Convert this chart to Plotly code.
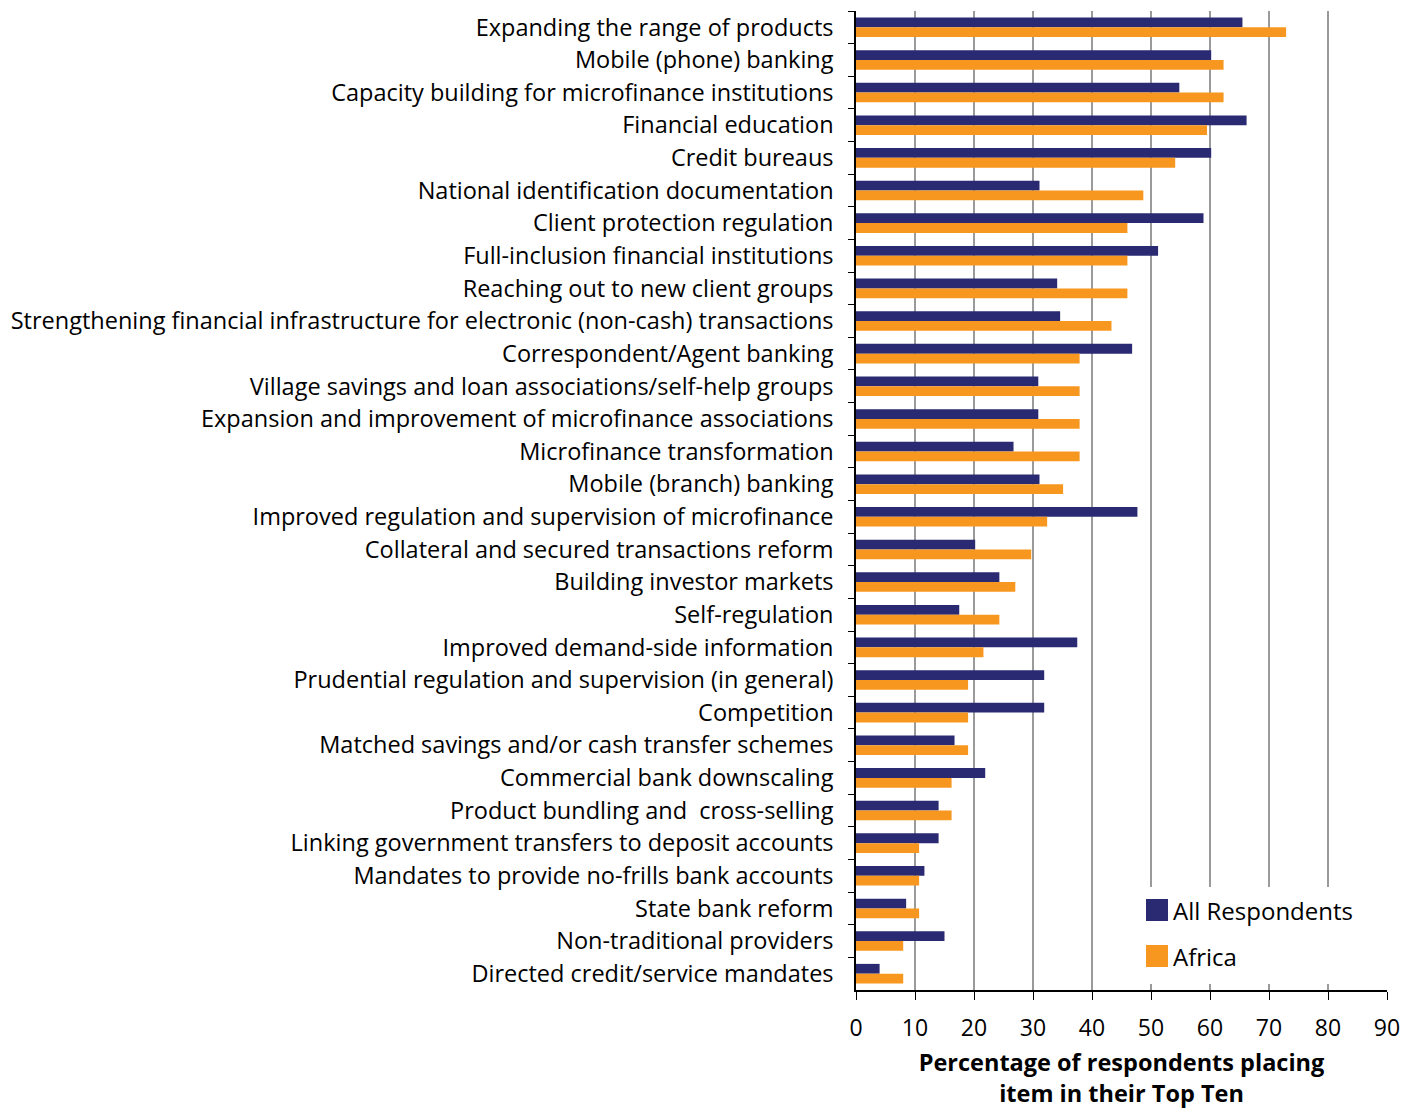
import plotly.graph_objects as go

categories = [
    "Expanding the range of products",
    "Mobile (phone) banking",
    "Capacity building for microfinance institutions",
    "Financial education",
    "Credit bureaus",
    "National identification documentation",
    "Client protection regulation",
    "Full-inclusion financial institutions",
    "Reaching out to new client groups",
    "Strengthening financial infrastructure for electronic (non-cash) transactions",
    "Correspondent/Agent banking",
    "Village savings and loan associations/self-help groups",
    "Expansion and improvement of microfinance associations",
    "Microfinance transformation",
    "Mobile (branch) banking",
    "Improved regulation and supervision of microfinance",
    "Collateral and secured transactions reform",
    "Building investor markets",
    "Self-regulation",
    "Improved demand-side information",
    "Prudential regulation and supervision (in general)",
    "Competition",
    "Matched savings and/or cash transfer schemes",
    "Commercial bank downscaling",
    "Product bundling and  cross-selling",
    "Linking government transfers to deposit accounts",
    "Mandates to provide no-frills bank accounts",
    "State bank reform",
    "Non-traditional providers",
    "Directed credit/service mandates",
]

all_respondents = [65.5, 60.2, 54.8, 66.2, 60.2, 31.1, 58.9, 51.2, 34.1, 34.6,
                   46.8, 30.9, 30.9, 26.7, 31.1, 47.7, 20.2, 24.3, 17.5, 37.5,
                   31.9, 31.9, 16.7, 21.9, 14.0, 14.0, 11.6, 8.5, 15.0, 4.0]

africa = [72.9, 62.3, 62.3, 59.5, 54.1, 48.7, 46.0, 46.0, 46.0, 43.3,
          37.9, 37.9, 37.9, 37.9, 35.1, 32.4, 29.7, 27.0, 24.3, 21.6,
          19.0, 19.0, 19.0, 16.2, 16.2, 10.7, 10.7, 10.7, 8.0, 8.0]

series_names = ["All Respondents", "Africa"]
x_ticks = [0, 10, 20, 30, 40, 50, 60, 70, 80, 90]

NAVY = "#2A2A73"
ORANGE = "#F8971F"
FONT = "Open Sans"

W, H = 1409, 1109
ML, MR, MT, MB = 856, 22, 11, 119
PW, PH = W - ML - MR, H - MT - MB

def px_x(px):
    return (px - ML) / PW

def px_y(py):
    return (H - MB - py) / PH

fig = go.Figure()
fig.add_trace(go.Bar(y=categories, x=all_respondents, orientation="h",
                     name=series_names[0], marker=dict(color=NAVY, line_width=0),
                     showlegend=False))
fig.add_trace(go.Bar(y=categories, x=africa, orientation="h",
                     name=series_names[1], marker=dict(color=ORANGE, line_width=0),
                     showlegend=False))

shapes = [
    # white legend background covering gridlines
    dict(type="rect", xref="paper", yref="paper", layer="above",
         x0=px_x(1140), x1=px_x(1400), y0=px_y(984), y1=px_y(887),
         fillcolor="white", line_width=0),
    dict(type="rect", xref="paper", yref="paper", layer="above",
         x0=px_x(1146), x1=px_x(1168), y0=px_y(921), y1=px_y(899),
         fillcolor=NAVY, line_width=0),
    dict(type="rect", xref="paper", yref="paper", layer="above",
         x0=px_x(1146), x1=px_x(1168), y0=px_y(967), y1=px_y(945),
         fillcolor=ORANGE, line_width=0),
]
annotations = [
    dict(xref="paper", yref="paper", x=px_x(1171), y=px_y(910), xanchor="left",
         yanchor="middle", text=series_names[0], showarrow=False,
         font=dict(size=24, color="black", family=FONT)),
    dict(xref="paper", yref="paper", x=px_x(1171), y=px_y(956), xanchor="left",
         yanchor="middle", text=series_names[1], showarrow=False,
         font=dict(size=24, color="black", family=FONT)),
]

fig.update_layout(
    width=W, height=H,
    barmode="group", bargap=0.4, bargroupgap=0,
    plot_bgcolor="white", paper_bgcolor="white",
    margin=dict(l=ML, r=MR, t=MT, b=MB, autoexpand=False),
    font=dict(family=FONT, size=23, color="black"),
    shapes=shapes, annotations=annotations,
    xaxis=dict(range=[0, 90], tickvals=x_ticks, ticks="outside", ticklen=8,
               tickcolor="black", showline=True, linecolor="black", linewidth=1.5,
               showgrid=True, gridcolor="#9a9a9a", gridwidth=1.5, zeroline=False,
               tickfont=dict(size=23), ticklabelstandoff=9,
               title=dict(text="<b>Percentage of respondents placing<br>item in their Top Ten</b>",
                          font=dict(size=23.5), standoff=14)),
    yaxis=dict(autorange="reversed", showline=True, linecolor="black", linewidth=1.5,
               ticks="outside", ticklen=6, tickcolor="black", tickson="boundaries",
               showgrid=False, tickfont=dict(size=23.5), ticklabelstandoff=16),
)

fig.write_html("out.html", config={"displayModeBar": False},
               post_script="document.body.style.margin='0';document.body.style.padding='0';")
